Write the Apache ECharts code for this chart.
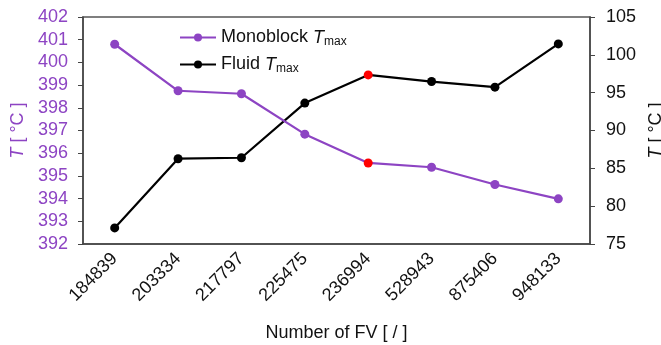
<!DOCTYPE html>
<html>
<head>
<meta charset="utf-8">
<script src="https://cdn.jsdelivr.net/npm/echarts@6/dist/echarts.min.js"></script>
<style>
  html, body { margin: 0; padding: 0; background: #fff; }
  #chart { width: 661px; height: 345px; }
</style>
</head>
<body>
<div id="chart"></div>
<script>
// Mesh sizes (number of finite volumes)
const meshSizes = ['184839', '203334', '217797', '225475', '236994', '528943', '875406', '948133'];
// Peak monoblock temperature [°C]
const monoblockTmax = [400.80, 398.75, 398.62, 396.84, 395.57, 395.38, 394.62, 393.99];
// Peak coolant temperature [°C]
const fluidTmax = [77.13, 86.27, 86.40, 93.62, 97.35, 96.47, 95.73, 101.44];
// Selected mesh, highlighted in red
const selectedIndex = 4;

const purple = '#8D44C3';
const FONT = 'Liberation Sans, Arial, sans-serif';

function markSelected(values) {
  return values.map((v, i) => i === selectedIndex
    ? { value: v, itemStyle: { color: '#FF0000' } }
    : v);
}

const chart = echarts.init(document.getElementById('chart'), null, { renderer: 'canvas' });

const nameRich = (color) => ({
  i: { fontStyle: 'italic', fontSize: 18, color: color, fontFamily: FONT },
  n: { fontSize: 18, color: color, fontFamily: FONT }
});

chart.setOption({
  animation: false,
  textStyle: { fontFamily: FONT },
  grid: {
    left: 83, right: 71, top: 17, bottom: 101,
    containLabel: false,
    outerBoundsMode: 'none',
    show: true, borderColor: '#555', borderWidth: 1.5
  },
  legend: {
    left: 174, top: 22,
    orient: 'vertical',
    itemWidth: 36, itemHeight: 10, itemGap: 6,
    data: ['Monoblock', 'Fluid'],
    formatter: (name) => '{n|' + name + ' }{i|T}{s|max}',
    textStyle: {
      fontFamily: FONT, color: '#000',
      rich: {
        n: { fontSize: 18, color: '#111', lineHeight: 20 },
        i: { fontSize: 18, fontStyle: 'italic', color: '#111', lineHeight: 20 },
        s: { fontSize: 12, color: '#111', lineHeight: 20, padding: [9, 0, 0, 0] }
      }
    }
  },
  xAxis: {
    type: 'category',
    data: meshSizes,
    boundaryGap: true,
    name: 'Number of FV [ / ]',
    nameLocation: 'middle',
    nameGap: 80,
    nameTextStyle: { fontSize: 18, color: '#111', fontFamily: FONT },
    axisLine: { lineStyle: { color: '#444', width: 1.5 } },
    axisTick: { show: false },
    axisLabel: {
      rotate: 45, fontSize: 18, color: '#111', margin: 12,
      fontFamily: FONT, interval: 0
    }
  },
  yAxis: [
    {
      type: 'value', min: 392, max: 402, interval: 1,
      position: 'left',
      name: '{i|T}{n| [ °C ]}',
      nameLocation: 'middle',
      nameGap: 47,
      nameRotate: 90,
      nameTextStyle: { rich: nameRich(purple) },
      splitLine: { show: false },
      axisLine: { show: true, lineStyle: { color: '#444', width: 1.5 } },
      axisTick: { show: true, inside: false, length: 5, lineStyle: { color: '#444' } },
      axisLabel: { fontSize: 18, color: purple, margin: 15, fontFamily: FONT }
    },
    {
      type: 'value', min: 75, max: 105, interval: 5,
      position: 'right',
      name: '{i|T}{n| [ °C ]}',
      nameLocation: 'middle',
      nameGap: 50,
      nameRotate: 90,
      nameTextStyle: { rich: nameRich('#111') },
      splitLine: { show: false },
      axisLine: { show: true, lineStyle: { color: '#444', width: 1.5 } },
      axisTick: { show: true, inside: false, length: 5, lineStyle: { color: '#444' } },
      axisLabel: { fontSize: 18, color: '#111', margin: 16, fontFamily: FONT }
    }
  ],
  series: [
    {
      name: 'Monoblock',
      type: 'line',
      yAxisIndex: 0,
      data: markSelected(monoblockTmax),
      symbol: 'circle', symbolSize: 9,
      lineStyle: { color: purple, width: 2.2 },
      itemStyle: { color: purple },
      z: 3
    },
    {
      name: 'Fluid',
      type: 'line',
      yAxisIndex: 1,
      data: markSelected(fluidTmax),
      symbol: 'circle', symbolSize: 9,
      lineStyle: { color: '#000', width: 2.2 },
      itemStyle: { color: '#000' },
      z: 2
    }
  ]
});
</script>
</body>
</html>
